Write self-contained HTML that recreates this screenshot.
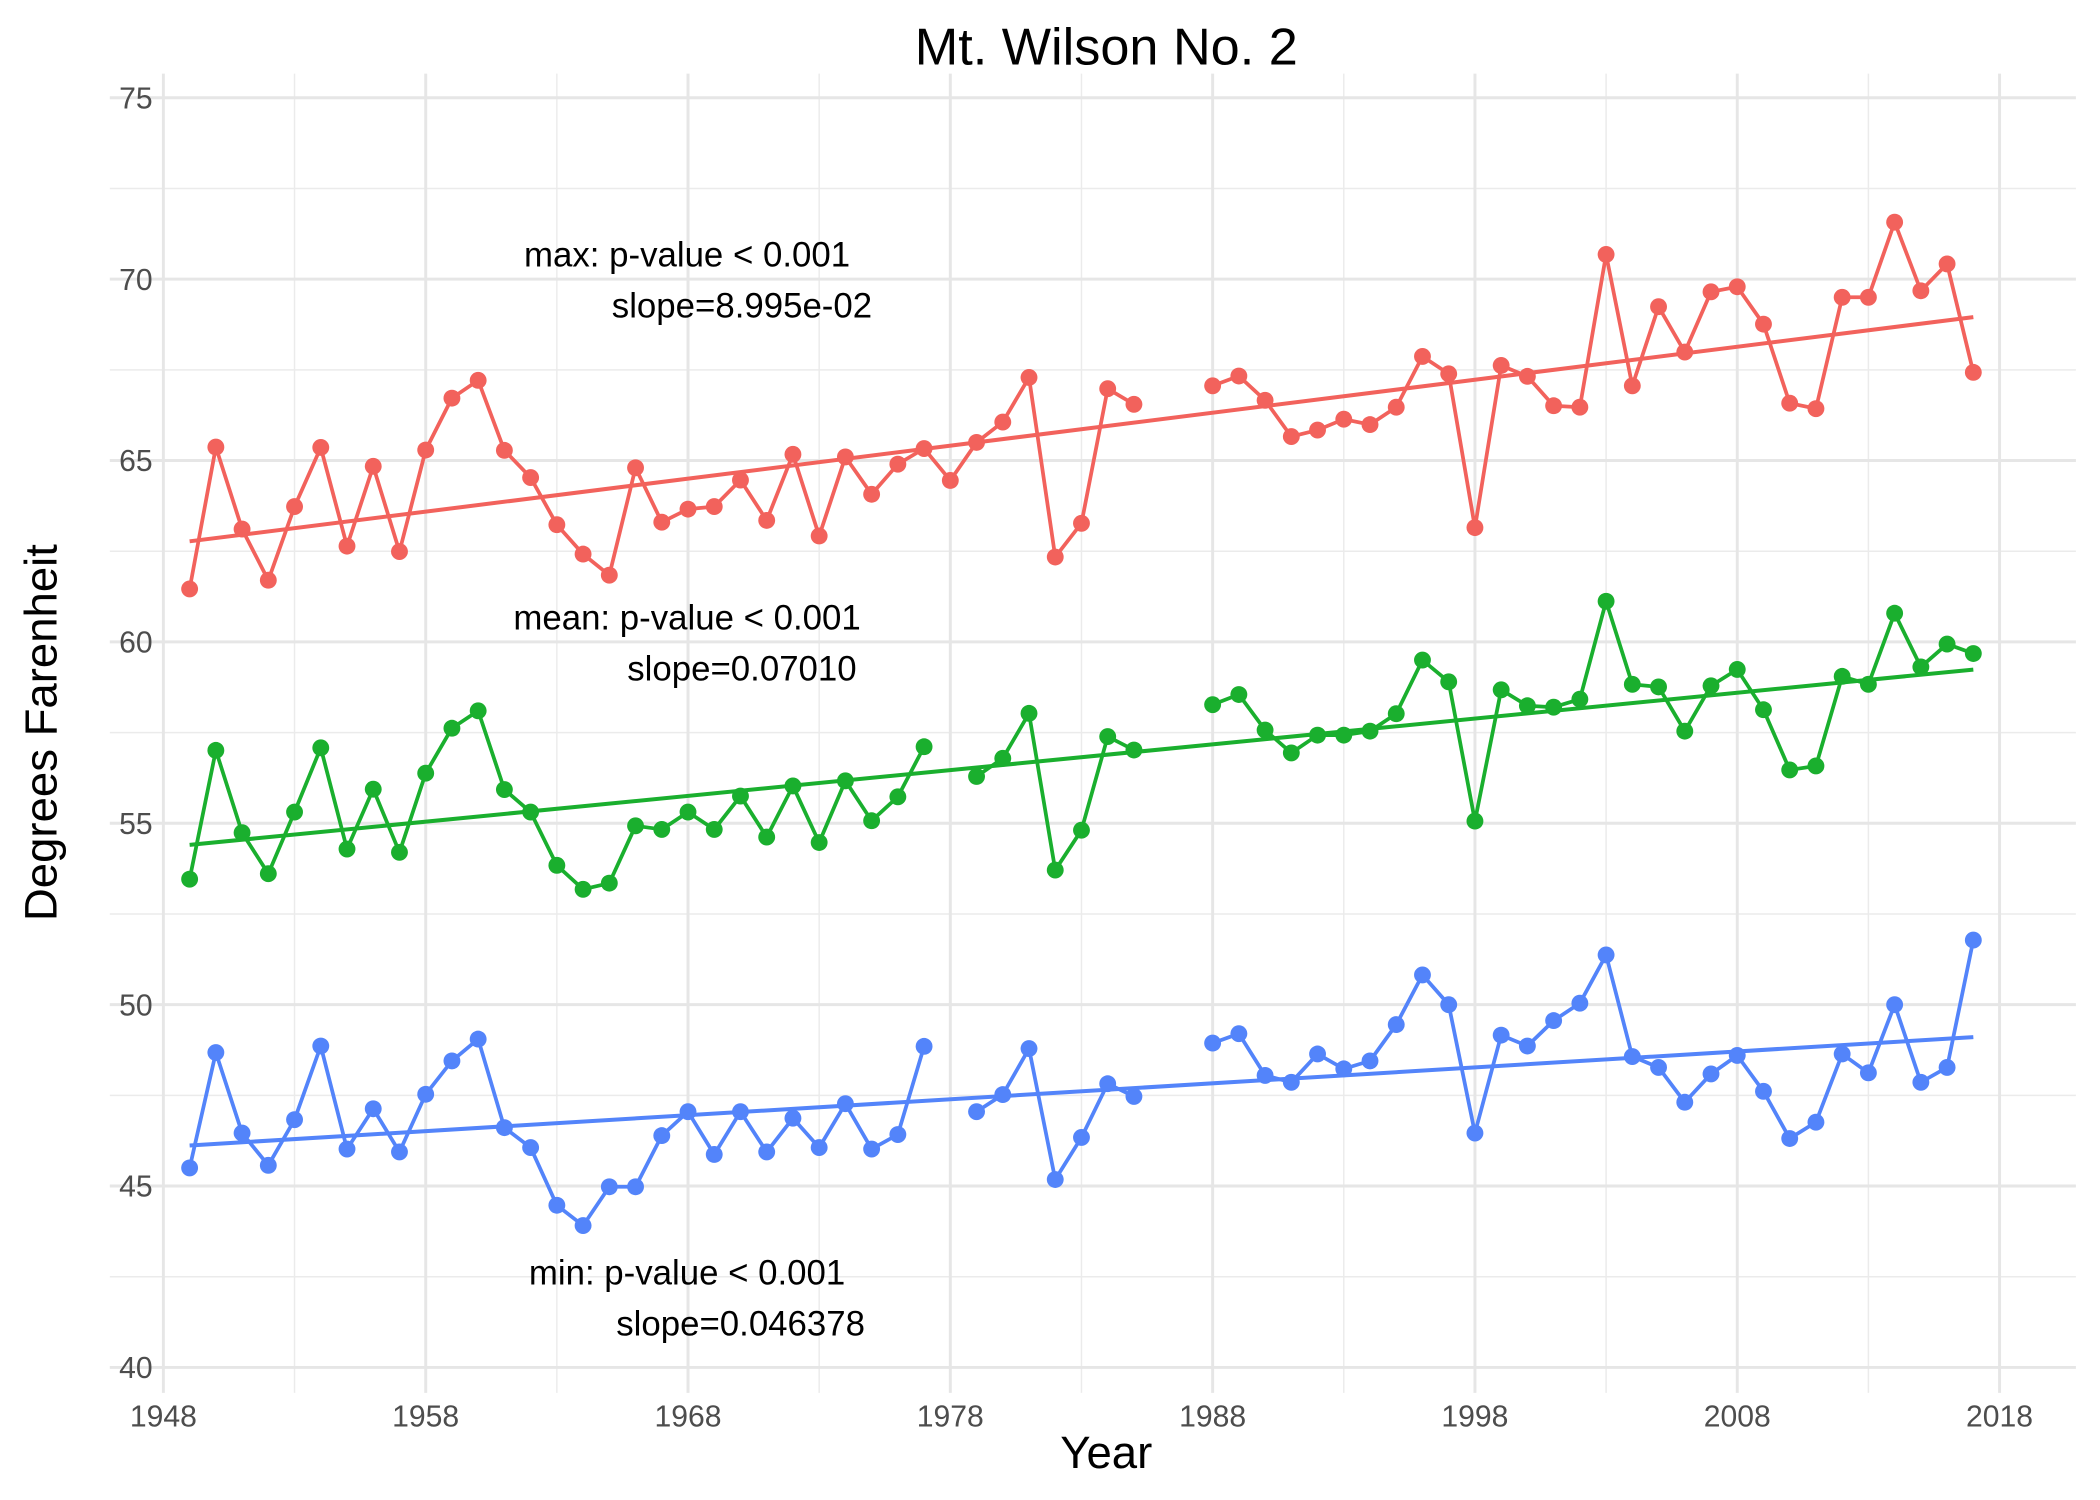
<!DOCTYPE html>
<html><head><meta charset="utf-8"><style>
html,body{margin:0;padding:0;background:#fff;}
svg{display:block;font-family:"Liberation Sans",Arial,sans-serif;}
</style></head><body>
<svg id="chart" width="2100" height="1500" viewBox="0 0 1568 1120" preserveAspectRatio="none" xmlns="http://www.w3.org/2000/svg">
<g id="grid"></g>
<g id="marks"></g>
<g id="axes"></g>
<text x="826" y="48" text-anchor="middle" font-size="39" fill="#000">Mt. Wilson No. 2</text>
<text x="826" y="1096" text-anchor="middle" font-size="34" fill="#000">Year</text>
<text transform="translate(42,547) rotate(-90)" text-anchor="middle" font-size="34" fill="#000">Degrees Farenheit</text>
<g font-size="26" fill="#000" text-anchor="middle">
<text x="513" y="199">max: p-value &lt; 0.001</text>
<text x="554" y="237">slope=8.995e-02</text>
<text x="513" y="470">mean: p-value &lt; 0.001</text>
<text x="554" y="508">slope=0.07010</text>
<text x="513" y="959">min: p-value &lt; 0.001</text>
<text x="553" y="997">slope=0.046378</text>
</g>
</svg>
<script>
const years = [];
for (let y = 1949; y <= 2017; y++) years.push(y);
const N = null;
const maxVals = [61.46,65.37,63.11,61.70,63.73,65.36,62.64,64.84,62.49,65.29,66.72,67.21,65.28,64.53,63.23,62.42,61.84,64.80,63.30,63.66,63.73,64.46,63.35,65.17,62.92,65.10,64.07,64.90,65.33,64.45,65.50,66.06,67.29,62.34,63.27,66.98,66.55,N,N,67.06,67.33,66.66,65.66,65.84,66.14,65.99,66.47,67.87,67.39,63.15,67.62,67.32,66.51,66.47,70.68,67.06,69.24,67.99,69.65,69.79,68.76,66.58,66.43,69.50,69.50,71.57,69.68,70.42,67.43];
const meanVals = [53.46,57.01,54.74,53.61,55.31,57.08,54.29,55.94,54.20,56.38,57.62,58.10,55.93,55.31,53.84,53.18,53.35,54.93,54.83,55.31,54.83,55.75,54.62,56.03,54.47,56.17,55.07,55.73,57.11,N,56.29,56.79,58.03,53.71,54.81,57.39,57.02,N,N,58.27,58.55,57.57,56.94,57.43,57.43,57.54,58.02,59.50,58.90,55.06,58.68,58.24,58.20,58.42,61.12,58.83,58.76,57.54,58.79,59.24,58.13,56.47,56.58,59.05,58.83,60.79,59.31,59.94,59.68];
const minVals = [45.50,48.68,46.46,45.57,46.83,48.86,46.02,47.13,45.94,47.53,48.45,49.05,46.61,46.06,44.47,43.91,44.98,44.98,46.39,47.05,45.87,47.05,45.94,46.87,46.06,47.27,46.02,46.42,48.85,N,47.05,47.52,48.79,45.18,46.34,47.82,47.47,N,N,48.94,49.20,48.05,47.86,48.64,48.23,48.45,49.45,50.82,50.00,46.46,49.16,48.86,49.56,50.04,51.37,48.57,48.27,47.31,48.09,48.60,47.61,46.31,46.76,48.64,48.12,50.00,47.86,48.27,51.78];
const xTicks = [1948,1958,1968,1978,1988,1998,2008,2018];
const xMinor = [1953,1963,1973,1983,1993,2003,2013];
const yTicks = [40,45,50,55,60,65,70,75];
const yMinor = [42.5,47.5,52.5,57.5,62.5,67.5,72.5];

const NS = "http://www.w3.org/2000/svg";
const X = v => 122 + (v - 1948) * (1371 / 70);
const Y = v => 1021 - (v - 40) * (948 / 35);
const PL = 82, PR = 1550, PT = 55, PB = 1040;
function mk(tag, attrs, parent) {
  const e = document.createElementNS(NS, tag);
  for (const k in attrs) e.setAttribute(k, attrs[k]);
  parent.appendChild(e);
  return e;
}
const grid = document.getElementById('grid');
const axes = document.getElementById('axes');
const marks = document.getElementById('marks');
xMinor.forEach(v => {
  const l = mk('line', {x1: X(v), x2: X(v), y1: PT, y2: PB, stroke: '#ebebeb', 'stroke-width': 1.1}, grid);
  
  
});
yMinor.forEach(v => {
  const l = mk('line', {x1: PL, x2: PR, y1: Y(v), y2: Y(v), stroke: '#ebebeb', 'stroke-width': 1.1}, grid);
  
  
});
xTicks.forEach(v => {
  const l = mk('line', {x1: X(v), x2: X(v), y1: PT, y2: PB, stroke: '#e6e6e6', 'stroke-width': 2.2}, grid);
  
  
  const t = mk('text', {x: X(v), y: 1065, 'text-anchor': 'middle', 'font-size': 22.5, fill: '#4d4d4d'}, axes);
  t.textContent = v;
  
  
});
yTicks.forEach(v => {
  const l = mk('line', {x1: PL, x2: PR, y1: Y(v), y2: Y(v), stroke: '#e6e6e6', 'stroke-width': 2.2}, grid);
  
  
  const t = mk('text', {x: 114, y: Y(v) + 8, 'text-anchor': 'end', 'font-size': 22.5, fill: '#4d4d4d'}, axes);
  t.textContent = v;
  
  
});

function series(vals, color, name) {
  const g = mk('g', {}, marks);
  
  
  let d = '', pen = false;
  vals.forEach((v, i) => {
    if (v === null) { pen = false; return; }
    d += (pen ? 'L' : 'M') + X(years[i]).toFixed(2) + ' ' + Y(v).toFixed(2) + ' ';
    pen = true;
  });
  const p = mk('path', {d: d, fill: 'none', stroke: color, 'stroke-width': 2.8, 'stroke-linejoin': 'round'}, g);
  
  
  let n = 0, sx = 0, sy = 0, sxx = 0, sxy = 0;
  vals.forEach((v, i) => { if (v !== null) { const x = years[i]; n++; sx += x; sy += v; sxx += x * x; sxy += x * v; } });
  const b = (n * sxy - sx * sy) / (n * sxx - sx * sx);
  const a = (sy - b * sx) / n;
  const x0 = years[0], x1 = years[years.length - 1];
  const r = mk('line', {x1: X(x0), y1: Y(a + b * x0), x2: X(x1), y2: Y(a + b * x1), stroke: color, 'stroke-width': 3}, g);
  
  
  vals.forEach((v, i) => {
    if (v === null) return;
    const c = mk('circle', {cx: X(years[i]), cy: Y(v), r: 6.3, fill: color}, g);
    
    
  });
}
series(maxVals, '#F2625C', 'max');
series(meanVals, '#1AAF2E', 'mean');
series(minVals, '#5384FA', 'min');
</script>
</body></html>
